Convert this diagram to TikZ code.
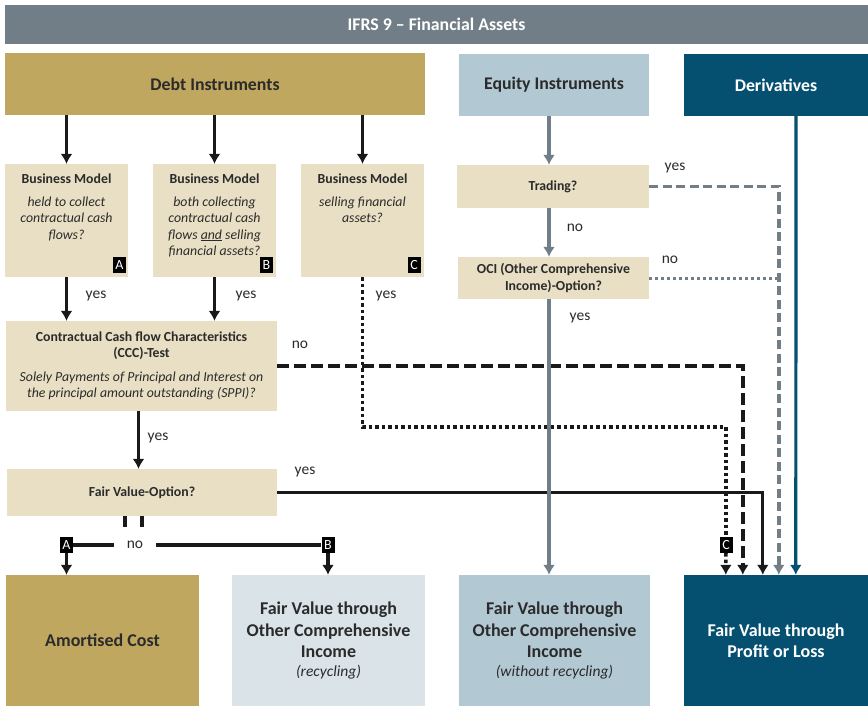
\documentclass[tikz,border=0pt]{standalone}
\usepackage{fontspec}
\setmainfont{Carlito}
\usetikzlibrary{arrows.meta}

\definecolor{titlegray}{HTML}{717E87}
\definecolor{debtgold}{HTML}{BFA760}
\definecolor{equityblue}{HTML}{B2C8D3}
\definecolor{derivblue}{HTML}{054F70}
\definecolor{bmbeige}{HTML}{E8DFC4}
\definecolor{ocilight}{HTML}{D9E3E8}
\definecolor{txtgray}{HTML}{2B2B2B}

\newcommand{\headfont}{\fontsize{17.8}{21}\selectfont\bfseries}
\newcommand{\boxfont}{\fontsize{13.8}{16.5}\selectfont}
\newcommand{\resfont}{\fontsize{18}{21.5}\selectfont\bfseries}
\newcommand{\lblfont}{\fontsize{15.5}{18}\selectfont}
\newcommand{\tagfont}{\fontsize{14}{16}\selectfont}

\tikzset{
  box/.style={rectangle,inner sep=0pt,align=center,text=txtgray,font=\boxfont},
  boxtext/.style={anchor=north,align=center,text=txtgray,font=\boxfont,inner sep=0pt},
  tag/.style={fill=black,text=white,inner sep=0pt,minimum width=13pt,minimum height=16pt,font=\tagfont},
  lbl/.style={text=txtgray,font=\lblfont,inner sep=1pt},
  tip/.style={-{Latex[length=10pt,width=12pt]}},
  blkline/.style={line width=3.2pt,draw=black!90},
  blk/.style={blkline,tip},
  blkdash/.style={line width=3.6pt,draw=black!90,dash pattern=on 12pt off 5pt},
  blkdot/.style={line width=3.6pt,draw=black!90,dash pattern=on 3.5pt off 3pt},
  grayline/.style={line width=3.2pt,draw=titlegray},
  graydash/.style={line width=3.4pt,draw=titlegray,dash pattern=on 9pt off 4.5pt},
  graydot/.style={line width=3pt,draw=titlegray,dash pattern=on 3pt off 3pt},
}

\begin{document}
\begin{tikzpicture}[x=1pt,y=-1pt]
\fill[white] (0,0) rectangle (868,706);
\useasboundingbox (0,0) rectangle (868,706);

% top row
\node[box,fill=titlegray,text=white,font=\headfont,minimum width=863pt,minimum height=39pt] (title) at (436.5,24.5) {IFRS 9 -- Financial Assets};
\node[box,fill=debtgold,font=\headfont,minimum width=420pt,minimum height=62pt] (debt) at (215,84) {Debt Instruments};
\node[box,fill=equityblue,font=\headfont,minimum width=190pt,minimum height=62pt] (equity) at (554,85) {Equity Instruments};
\node[box,fill=derivblue,text=white,font=\headfont,minimum width=184pt,minimum height=62pt] (deriv) at (776,85) {Derivatives};

% business models
\node[box,fill=bmbeige,minimum width=123pt,minimum height=113pt] (bmA) at (66.5,220.5) {};
\node[box,fill=bmbeige,minimum width=123pt,minimum height=113pt] (bmB) at (214.5,220.5) {};
\node[box,fill=bmbeige,minimum width=123pt,minimum height=113pt] (bmC) at (362.5,220.5) {};
\node[boxtext] at ([yshift=-10pt]bmA.north) {\textbf{Business Model}\\[6pt]\itshape held to collect\\\itshape contractual cash\\\itshape flows?};
\node[boxtext] at ([yshift=-10pt]bmB.north) {\textbf{Business Model}\\[6pt]\itshape both collecting\\\itshape contractual cash\\\itshape flows \underline{and} selling\\\itshape financial assets?};
\node[boxtext] at ([yshift=-10pt]bmC.north) {\textbf{Business Model}\\[6pt]\itshape selling financial\\\itshape assets?};
\node[tag] (tagA) at (119.5,265) {A};
\node[tag] (tagB) at (266.5,265) {B};
\node[tag] (tagC) at (414,265) {C};

% tests
\node[box,fill=bmbeige,minimum width=271pt,minimum height=90pt] (ccc) at (141.5,366)
  {\textbf{Contractual Cash flow Characteristics}\\\textbf{(CCC)-Test}\\[7pt]\itshape Solely Payments of Principal and Interest on\\\itshape the principal amount outstanding (SPPI)?};
\node[box,fill=bmbeige,font=\boxfont\bfseries,minimum width=270pt,minimum height=47pt] (fvo) at (142,492.5) {Fair Value-Option?};
\node[box,fill=bmbeige,font=\boxfont\bfseries,minimum width=192pt,minimum height=43pt] (trading) at (553,186.5) {Trading?};
\node[box,fill=bmbeige,font=\boxfont\bfseries,minimum width=191pt,minimum height=42pt] (oci) at (553.5,278) {OCI (Other Comprehensive\\Income)-Option?};

% results
\node[box,fill=debtgold,font=\resfont,minimum width=193pt,minimum height=131pt] (amort) at (102.5,640.5) {Amortised Cost};
\node[box,fill=ocilight,font=\resfont,minimum width=193pt,minimum height=131pt] (ocirec) at (328.5,640.5)
  {Fair Value through\\Other Comprehensive\\Income\\[-3pt]{\fontsize{15.5}{18}\selectfont\mdseries\itshape (recycling)}};
\node[box,fill=equityblue,font=\resfont,minimum width=191pt,minimum height=131pt] (ocinorec) at (554.5,640.5)
  {Fair Value through\\Other Comprehensive\\Income\\[-3pt]{\fontsize{15.5}{18}\selectfont\mdseries\itshape (without recycling)}};
\node[box,fill=derivblue,text=white,font=\resfont,minimum width=184pt,minimum height=131pt] (fvpl) at (776,640.5) {Fair Value through\\Profit or Loss};

\coordinate (inC) at ([xshift=42pt]fvpl.north west);
\coordinate (inN) at ([xshift=59pt]fvpl.north west);
\coordinate (inY) at ([xshift=79pt]fvpl.north west);
\coordinate (inT) at ([xshift=95pt]fvpl.north west);
\coordinate (inD) at ([xshift=112pt]fvpl.north west);
\coordinate (cturn) at (726,427);

% debt path
\draw[blk] (debt.south -| bmA.north) -- (bmA.north);
\draw[blk] (debt.south -| bmB.north) -- (bmB.north);
\draw[blk] (debt.south -| bmC.north) -- (bmC.north);
\draw[blk] (bmA.south) -- (bmA.south |- ccc.north);
\draw[blk] (bmB.south) -- (bmB.south |- ccc.north);
\draw[blk] ([xshift=-3pt]ccc.south) -- ([xshift=-3pt]ccc.south |- fvo.north);
\draw[blkdash,tip] (ccc.east) -| (inN);
\draw[blk] (fvo.east) -| (inY);

\node[tag] (toC) at (726,545) {C};
\draw[blkdot] (bmC.south) |- (cturn) -- (toC);
\draw[blkdot,tip] (toC) -- (inC);

% no fair value option
\node[tag] (toA) at (66.5,545) {A};
\node[tag] (toB) at (328,545) {B};
\node[lbl,inner xsep=13pt] (nofvo) at (135,545) {no};
\draw[blkline] ([xshift=-17pt]fvo.south) -- ++(0,11);
\draw[blkline] (fvo.south) -- ++(0,11);
\draw[blkline] (toA) -- (nofvo);
\draw[blkline] (nofvo) -- (toB);
\draw[blk] (toA) -- (toA |- amort.north);
\draw[blk] (toB) -- (toB |- ocirec.north);

% equity path
\draw[grayline,tip] ([xshift=-5pt]equity.south) -- ([xshift=-5pt]equity.south |- trading.north);
\draw[grayline,tip] ([xshift=-4pt]trading.south) -- ([xshift=-4pt]trading.south |- oci.north);
\draw[grayline,tip] ([xshift=-4.5pt]oci.south) -- ([xshift=-4.5pt]oci.south |- ocinorec.north);
\draw[graydash,tip] (trading.east) -| (inT);
\draw[graydot] (oci.east) -- (oci.east -| inT);

% derivatives
\draw[line width=3.2pt,draw=derivblue,tip] ([xshift=20pt]deriv.south) -- (inD);

% labels
\node[lbl] (yesA) at (96,296) {yes};
\node[lbl] (yesB) at (246,296) {yes};
\node[lbl] (yesC) at (386,296) {yes};
\node[lbl] (noccc) at (300,345) {no};
\node[lbl] (yesccc) at (158,438) {yes};
\node[lbl] (yesfvo) at (305,472) {yes};
\node[lbl] (yestrd) at (675,168) {yes};
\node[lbl] (notrd) at (575,228) {no};
\node[lbl] (nooci) at (670,260) {no};
\node[lbl] (yesoci) at (580,318) {yes};
\end{tikzpicture}
\end{document}
